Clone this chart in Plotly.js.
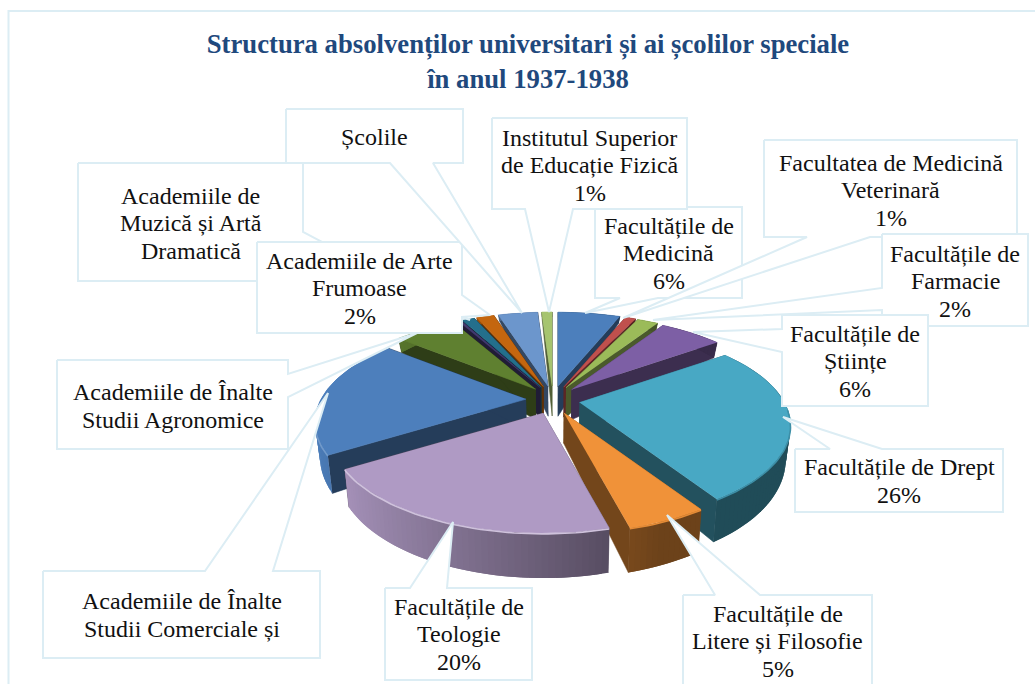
<!DOCTYPE html>
<html><head><meta charset="utf-8">
<script src="https://cdn.plot.ly/plotly-3.0.1.min.js"></script>
<style>html,body{margin:0;padding:0;background:#fff;overflow:hidden}</style>
</head><body><div id="chart" style="width:1035px;height:684px"></div>
<script>
// ---- data (share of graduates, %, clockwise from 12 o'clock)
const categories = ["Facultățile de Medicină","Facultatea de Medicină Veterinară","Facultățile de Farmacie","Facultățile de Științe","Facultățile de Drept","Facultățile de Litere și Filosofie","Facultățile de Teologie","Academiile de Înalte Studii Comerciale și","Academiile de Înalte Studii Agronomice","","Academiile de Muzică și Artă Dramatică","Academiile de Arte Frumoase","Școlile","Institutul Superior de Educație Fizică"];
const values = [6,1,2,6,26,5,20,20,6,0.3,1.2,1.7,3.8,1];
const colors = ["#4c7fbc","#c0504d","#9bbb59","#7d5fa5","#48a8c4","#f09239","#af9ac4","#4d7fbc","#5f8030","#423a70","#246f8c","#c4660f","#6c96cc","#a6c46f"];
const rimGlow = [1.1,1.1,1.1,1.1,0.85,0.95,1.4,1.2,1.1,1.1,1.1,1.1,1.1,1.1];
const labelLines = [["Facultățile de","Medicină","6%"],["Facultatea de Medicină","Veterinară","1%"],["Facultățile de","Farmacie","2%"],["Facultățile de","Științe","6%"],["Facultățile de Drept","26%"],["Facultățile de","Litere și Filosofie","5%"],["Facultățile de","Teologie","20%"],["Academiile de Înalte","Studii Comerciale și"],["Academiile de Înalte","Studii Agronomice"],[],["Academiile de","Muzică și Artă","Dramatică"],["Academiile de Arte","Frumoase","2%"],["Școlile"],["Institutul Superior","de Educație Fizică","1%"]];
const titleText = "Structura absolvenților universitari și ai școlilor speciale<br>în anul 1937-1938";

// ---- layout of the callouts, in plot units: [x0,y0,x1,y1, base1x,base1y, tipx,tipy, base2x,base2y, edge, textY]
const callouts = [
 [595,207,742,298, 620,298, 585,313, 658,298, "b",253],
 [764,140,1017,237, 807,237, 623,318, 870,237, "b",190],
 [882,234,1028,326, 882,288, 653,320, 882,310, "l",281],
 [782,315,928,406, 782,329, 693,332, 782,352, "l",361],
 [795,449,1003,512, 830,449, 783,417, 882,449, "t",481],
 [683,595,872,700, 715,595, 667,515, 760,595, "t",641],
 [385,588,532,680, 410,588, 453,522, 447,588, "t",634],
 [43,571,320,658, 205,571, 328,393, 273,571, "t",615],
 [57,360,288,449, 288,374, 417,333, 288,397, "r",406],
 null,
 [78,163,303,281, 303,232, 470,320, 303,262, "r",223],
 [257,242,462,333, 462,295, 490,315, 462,317, "r",288],
 [286,109,463,163, 390,163, 522,313, 433,163, "b",137],
 [492,118,687,209, 525,209, 549,312, 573,209, "b",165]
];
const lineGap = 27.5;

// ---- projection of the tilted, exploded pie
const cx=553, cy=400, rx=205, ry=91.6, persp=0.237, pullX=27, pullY=14;
function hexRgb(h){return [1,3,5].map(i=>parseInt(h.substr(i,2),16));}
function shade(h,f){const c=hexRgb(h).map(v=>Math.round(f>1?v+(255-v)*(f-1):v*f));return `rgb(${c[0]},${c[1]},${c[2]})`;}
function wallH(Y){return Y<0?30+25*Y:30+15*Y;}

const total = values.reduce((a,b)=>a+b,0);
const slices=[]; let acc=0;
values.forEach((v,i)=>{
  const a0=acc/total*2*Math.PI; acc+=v; const a1=acc/total*2*Math.PI;
  slices.push({i,a0,a1,mid:(a0+a1)/2});
});
function topPt(sl,r,a){
  const X=r*Math.sin(a),Y=-r*Math.cos(a),s=1/(1-persp*Y);
  const ax=cx+pullX*Math.sin(sl.mid), ay=cy-pullY*Math.cos(sl.mid);
  return {x:ax+rx*X*s,y:ay+ry*Y*s,Y};
}
function bottomPt(p){return {x:cx+(p.x-cx)*0.98,y:p.y+wallH(p.Y)};}
const traces=[];
function poly(pts,col,name,txt,lw){
  traces.push({type:"scatter",mode:"lines",x:pts.map(p=>p.x),y:pts.map(p=>p.y),fill:"toself",fillcolor:col,
    line:{color:col,width:lw===undefined?0.6:lw},hoverinfo:txt?"text":"skip",text:txt,name:name||"",showlegend:false});
}
const order=slices.slice().sort((p,q)=>(-Math.cos(p.mid))-(-Math.cos(q.mid)));
order.forEach(sl=>{
  const col=colors[sl.i], name=categories[sl.i];
  const A=topPt(sl,0,0), P0=topPt(sl,1,sl.a0), P1=topPt(sl,1,sl.a1);
  const rad=0.48;
  poly([A,P0,bottomPt(P0),bottomPt(A)],shade(col,rad),name);
  poly([A,P1,bottomPt(P1),bottomPt(A)],shade(col,rad),name);
  const step=1.5*Math.PI/180, n=Math.max(2,Math.ceil((sl.a1-sl.a0)/step));
  const arc=[];
  for(let k=0;k<=n;k++) arc.push(topPt(sl,1,sl.a0+(sl.a1-sl.a0)*k/n));
  for(let k=0;k<n;k++){
    const X=Math.sin(sl.a0+(sl.a1-sl.a0)*(k+0.5)/n);
    const f=Math.max(0.45,Math.min(1,0.6-0.4*X));
    const e=Math.min(n,k+2); // each strip runs under the next, so no seam shows
    poly([arc[k],arc[e],bottomPt(arc[e]),bottomPt(arc[k])],shade(col,f),name,undefined,0);
  }
  poly([A].concat(arc),col,name,`${name}: ${values[sl.i]}%`);
  const front=arc.filter(p=>p.Y>0.05);
  if(front.length>1){
    traces.push({type:"scatter",mode:"lines",x:front.map(p=>p.x),y:front.map(p=>p.y+0.8),
      line:{color:shade(col,rimGlow[sl.i]),width:1.6},hoverinfo:"skip",showlegend:false});
  }
});

// ---- callouts drawn over the pie, later series over earlier ones
const edge="#dcedf4";
const annotations=[];
callouts.forEach((c,i)=>{
  if(!c) return;
  const [x0,y0,x1,y1,bx1,by1,tx,ty,bx2,by2,side,textY]=c;
  let pts;
  if(side==="b") pts=[[x0,y0],[x1,y0],[x1,y1],[bx2,by2],[tx,ty],[bx1,by1],[x0,y1],[x0,y0]];
  if(side==="t") pts=[[x0,y0],[bx1,by1],[tx,ty],[bx2,by2],[x1,y0],[x1,y1],[x0,y1],[x0,y0]];
  if(side==="l") pts=[[x0,y0],[x1,y0],[x1,y1],[x0,y1],[bx2,by2],[tx,ty],[bx1,by1],[x0,y0]];
  if(side==="r") pts=[[x0,y0],[x1,y0],[bx1,by1],[tx,ty],[bx2,by2],[x1,y1],[x0,y1],[x0,y0]];
  traces.push({type:"scatter",mode:"lines",x:pts.map(p=>p[0]),y:pts.map(p=>p[1]),fill:"toself",fillcolor:"#ffffff",
    line:{color:edge,width:2},hoverinfo:"skip",showlegend:false});
  const L=labelLines[i];
  L.forEach((t,k)=>annotations.push({x:(x0+x1)/2,y:textY+(k-(L.length-1)/2)*lineGap,xref:"x",yref:"y",text:t,showarrow:false,
    xanchor:"center",yanchor:"middle",font:{family:"Liberation Serif, serif",size:24,color:"#111"}}));
});

const layout={
  width:1035,height:684,margin:{l:0,r:0,t:0,b:0},paper_bgcolor:"#fff",plot_bgcolor:"#fff",showlegend:false,
  title:{text:titleText,x:528/1035,xanchor:"center",y:1-53/684,yanchor:"middle",font:{family:"Liberation Serif, serif",size:26.7,color:"#1f497d",weight:700}},
  xaxis:{range:[0,1035],visible:false,fixedrange:true},
  yaxis:{range:[684,0],visible:false,fixedrange:true},
  shapes:[{type:"rect",xref:"paper",yref:"paper",x0:8.5/1035,y0:-0.05,x1:1.05,y1:1-11/684,line:{color:edge,width:2},layer:"below"}],
  annotations
};
Plotly.newPlot("chart",traces,layout,{displayModeBar:false});
</script></body></html>
